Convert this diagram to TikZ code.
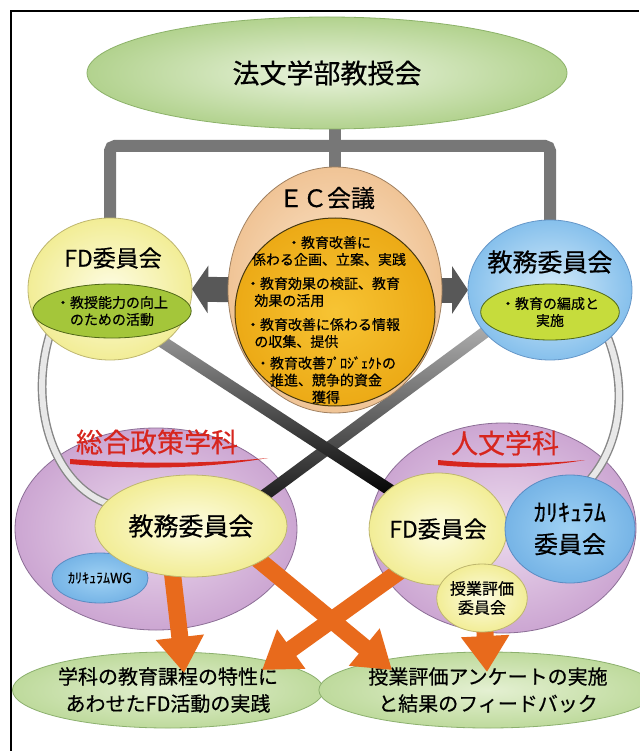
\documentclass[tikz,border=0pt]{standalone}
\usepackage{fontspec}
\setmainfont{Noto Sans CJK JP}[FakeBold=0.5]
\usetikzlibrary{shapes.geometric,arrows.meta,calc}
\pgfdeclarelayer{bg}
\pgfdeclarelayer{conn}
\pgfdeclarelayer{fg}
\pgfsetlayers{bg,main,conn,fg}
\definecolor{bargray}{HTML}{777777}
\definecolor{orangec}{HTML}{E86A1C}
\definecolor{redc}{HTML}{D7261E}
\begin{document}
\begin{tikzpicture}[x=1pt,y=-1pt,
  every node/.style={inner sep=0pt,outer sep=0pt},
  sz/.style 2 args={ellipse,minimum width=#1pt,minimum height=#2pt},
  topgreen/.style={shade,inner color={rgb,255:red,234;green,244;blue,222},outer color={rgb,255:red,178;green,210;blue,142},draw={rgb,255:red,140;green,178;blue,105},line width=0.8pt},
  peach/.style={shade,inner color={rgb,255:red,252;green,232;blue,208},outer color={rgb,255:red,240;green,196;blue,150},draw={rgb,255:red,160;green,128;blue,96},line width=0.8pt},
  gold/.style={shade,inner color={rgb,255:red,247;green,196;blue,52},outer color={rgb,255:red,236;green,170;blue,22},draw={rgb,255:red,70;green,56;blue,16},line width=1pt},
  yel/.style={shade,inner color={rgb,255:red,253;green,252;blue,226},outer color={rgb,255:red,242;green,237;blue,150},draw={rgb,255:red,190;green,182;blue,110},line width=0.8pt},
  blu/.style={shade,inner color={rgb,255:red,214;green,236;blue,250},outer color={rgb,255:red,134;green,192;blue,236},draw={rgb,255:red,100;green,150;blue,200},line width=0.8pt},
  blu2/.style={shade,inner color={rgb,255:red,160;green,210;blue,244},outer color={rgb,255:red,118;green,180;blue,230},draw={rgb,255:red,90;green,140;blue,195},line width=0.8pt},
  grn1/.style={fill={rgb,255:red,164;green,198;blue,58},draw={rgb,255:red,80;green,104;blue,24},line width=0.8pt},
  grn2/.style={fill={rgb,255:red,198;green,220;blue,60},draw={rgb,255:red,80;green,104;blue,24},line width=0.8pt},
  purp/.style={shade,inner color={rgb,255:red,236;green,218;blue,238},outer color={rgb,255:red,204;green,166;blue,210},draw={rgb,255:red,140;green,110;blue,150},line width=0.8pt},
  botg/.style={shade,inner color={rgb,255:red,228;green,240;blue,210},outer color={rgb,255:red,190;green,218;blue,156},draw={rgb,255:red,140;green,176;blue,110},line width=0.8pt},
  graybar/.style={draw=bargray,line width=12pt},
  sidearrow/.style={draw={rgb,255:red,88;green,88;blue,88},line width=25pt,-{Triangle[length=16pt,width=47pt]}},
  orarrow/.style={draw=orangec,line width=17pt,-{Triangle[length=36pt,width=46pt]},shorten <=-8pt},
  curveline/.style={draw={rgb,255:red,135;green,135;blue,135},line width=1.4pt,double={rgb,255:red,232;green,232;blue,232},double distance=6pt,shorten <=-6pt,shorten >=-6pt},
  t14/.style={font=\fontsize{14}{17}\selectfont},
]
\useasboundingbox (0,0) rectangle (639,751);
\begin{pgfonlayer}{bg}
\fill[white] (0,0) rectangle (639,751);
\end{pgfonlayer}
\draw[line width=2pt] (11,751) -- (11,11) -- (639,11);

% ---------- main layer: big ellipses
\node[sz={480}{112},topgreen,font=\fontsize{27}{30}\selectfont] (top) at (327,73) {法文学部教授会};
\node[sz={282}{202},purp] (sogo) at (156,529) {};
\node[sz={266}{210},purp] (jinbun) at (503,528) {};
\node[text=redc,font=\fontsize{27}{30}\selectfont] (sogoT) at (157,442) {総合政策学科};
\node[text=redc,font=\fontsize{27}{30}\selectfont] (jinT) at (505,443) {人文学科};
\fill[redc] (70,464) .. controls (150,471) and (215,467) .. (268,458) .. controls (215,463) and (150,465) .. (70,459) -- cycle;
\fill[redc] (438,465) .. controls (490,470) and (545,467) .. (585,460) .. controls (545,464) and (490,465) .. (438,460) -- cycle;
\node[sz={286}{76},botg,align=center,font=\fontsize{20}{27}\selectfont] (botL) at (168,690) {学科の教育課程の特性に\\あわせたFD活動の実践};
\node[sz={286}{76},botg,align=center,font=\fontsize{20}{27}\selectfont] (botR) at (488,690) {授業評価アンケートの実施\\と結果のフィードバック};

% ---------- foreground nodes
\begin{pgfonlayer}{fg}
\node[sz={214}{246},peach] (ec) at (335,290) {};
\node[sz={200}{188},gold] (eci) at (335,312) {};
\node[font=\fontsize{24}{28}\selectfont] (ecT) at (327,198) {ＥＣ会議};
\node[t14,align=center] (ecg1) at (329,251) {・教育改善に\\係わる企画、立案、実践};
\node[t14,align=left,anchor=west] (ecg2) at (246,292) {・教育効果の検証、教育\\\hspace*{0.6em}効果の活用};
\node[t14,align=left,anchor=west] (ecg3) at (246,333) {・教育改善に係わる情報\\\hspace*{0.6em}の収集、提供};
\node[t14,align=center] (ecg4) at (326,380) {・教育改善ﾌﾟﾛｼﾞｪｸﾄの\\推進、競争的資金\\獲得};

\node[sz={164}{142},yel] (fdA) at (110,289) {};
\node[font=\fontsize{23}{26}\selectfont] (fdAT) at (113,258) {FD委員会};
\node[sz={124}{54},grn1,t14,align=center] (fdAi) at (112,311) {・教授能力の向上\\のための活動};

\node[sz={164}{140},blu] (kmA) at (550,290) {};
\node[font=\fontsize{25}{28}\selectfont] (kmAT) at (550,262) {教務委員会};
\node[sz={120}{56},grn2,t14,align=center] (kmAi) at (550,312) {・教育の編成と\\実施};

\node[sz={96}{50},blu2,font=\fontsize{14}{16}\selectfont] (wg) at (100,578) {ｶﾘｷｭﾗﾑWG};
\node[sz={192}{102},yel,font=\fontsize{25}{28}\selectfont] (kmB) at (191,526) {教務委員会};
\node[sz={126}{112},yel,font=\fontsize{23}{26}\selectfont] (fdB) at (438,529) {FD委員会};
\node[sz={130}{108},blu2,align=center,font=\fontsize{24}{32}\selectfont] (cur) at (570,529) {ｶﾘｷｭﾗﾑ\\委員会};
\node[sz={76}{68},yel,align=center,font=\fontsize{16}{19}\selectfont] (small) at (482,598) {授業評価\\委員会};
\end{pgfonlayer}

% ---------- background connectors
\begin{pgfonlayer}{bg}
\coordinate (barJ) at (335,146);
\draw[graybar] (top.south -| ec.north) -- (ec.north);
\draw[graybar,rounded corners=5pt] (fdA.north) |- (barJ) -| (kmA.north);
\draw[sidearrow] ($(ec.west)+(14,0)$) -- (fdA.east);
\draw[sidearrow] ($(ec.east)+(-14,0)$) -- (kmA.west);
\end{pgfonlayer}

% ---------- connectors over purple ellipses
\begin{pgfonlayer}{conn}
\coordinate (tA1) at (184,673);
\coordinate (tA2) at (392,670);
\coordinate (tA3) at (262,670);
\coordinate (tA4) at (487,672);
\draw[orarrow] (kmB.250) -- (tA1);
\draw[orarrow] (kmB.333) -- (tA2);
\draw[orarrow] (fdB.227) -- (tA3);
\draw[orarrow] (small.275) -- (tA4);

\draw[curveline] (fdA.218) .. controls (28,400) and (50,485) .. (kmB.165);
\draw[curveline] (kmA.320) .. controls (628,385) and (622,445) .. (cur.67);

\coordinate (d2a) at ($(kmA.213)!-8pt!(kmB.23)$);
\coordinate (d2b) at ($(kmB.23)!-8pt!(kmA.213)$);
\shade[top color={rgb,255:red,175;green,175;blue,175},bottom color=black!90]
  ($(d2a)!6pt!90:(d2b)$) -- ($(d2a)!6pt!-90:(d2b)$) -- ($(d2b)!6pt!90:(d2a)$) -- ($(d2b)!6pt!-90:(d2a)$) -- cycle;
\coordinate (d1a) at ($(fdA.315)!-8pt!(fdB.141)$);
\coordinate (d1b) at ($(fdB.141)!-8pt!(fdA.315)$);
\shade[top color={rgb,255:red,150;green,150;blue,150},bottom color=black]
  ($(d1a)!6pt!90:(d1b)$) -- ($(d1a)!6pt!-90:(d1b)$) -- ($(d1b)!6pt!90:(d1a)$) -- ($(d1b)!6pt!-90:(d1a)$) -- cycle;
\end{pgfonlayer}
\end{tikzpicture}
\end{document}
